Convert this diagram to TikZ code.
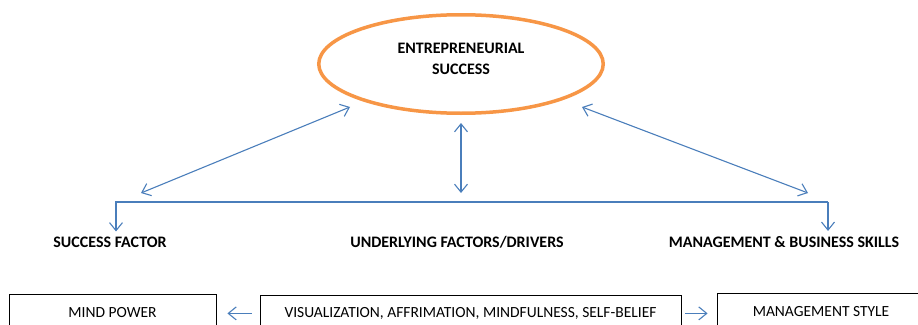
\documentclass[tikz,border=0pt]{standalone}
\usepackage{fontspec}
\setmainfont{Carlito}
\usetikzlibrary{shapes.geometric,arrows.meta}
\definecolor{linkblue}{HTML}{4A7EBB}
\definecolor{ovalorange}{HTML}{F79646}
\begin{document}
\begin{tikzpicture}[
   x=1pt,y=-1pt,
   font=\fontsize{15.5}{20}\selectfont,
   goal/.style={draw=ovalorange,line width=3.5pt,ellipse,minimum width=284.5pt,minimum height=98.5pt},
   head/.style={font=\fontsize{16}{21.5}\selectfont\bfseries,align=center},
   box/.style={draw,line width=0.8pt,minimum height=36pt,anchor=north},
   link/.style={-{Straight Barb[length=8pt,width=13pt]},linkblue,line width=1.1pt},
   twoway/.style={{Straight Barb[length=8pt,width=13pt]}-{Straight Barb[length=8pt,width=13pt]},linkblue,line width=1.1pt}]
\useasboundingbox (0,0) rectangle (918,324);
% top oval
\node[goal] (success) at (461,64) {};
\node[head] (title) at (461,59) {ENTREPRENEURIAL\\SUCCESS};
% second row headings
\node[head,anchor=base] (factor) at (110,247.5) {SUCCESS FACTOR};
\node[head,anchor=base] (drivers) at (457,247.5) {UNDERLYING FACTORS/DRIVERS};
\node[head,anchor=base] (skills) at (784,247.5) {MANAGEMENT \& BUSINESS SKILLS};
% bottom boxes
\node[box,minimum width=207pt] (mind) at (112.5,294) {MIND POWER};
\node[box,minimum width=421pt] (visual) at (470.5,295) {VISUALIZATION, AFFRIMATION, MINDFULNESS, SELF-BELIEF};
\node[box,minimum width=208pt] (style) at (821,293) {MANAGEMENT STYLE};
% ends of the links
\coordinate (barL) at (116,202);
\coordinate (barR) at (828,202);
\coordinate (topL) at (350,107);
\coordinate (topR) at (582,107);
\coordinate (tipL) at (141,193);
\coordinate (tipR) at (808,193);
% links
\draw[twoway] (topL) -- (tipL);
\draw[twoway] (topR) -- (tipR);
\draw[twoway,shorten <=8pt,shorten >=9pt] (success.south) -- (success.south |- barL);
\draw[link,shorten >=2pt] (barR) -- (barL) -- (barL |- factor.north);
\draw[link,shorten >=2pt] (barR) -- (barR |- skills.north);
\draw[link,shorten <=8pt,shorten >=11pt] (visual.west) -- (visual.west -| mind.east);
\draw[link,shorten <=4pt,shorten >=9pt] (visual.east) -- (visual.east -| style.west);
\end{tikzpicture}
\end{document}
